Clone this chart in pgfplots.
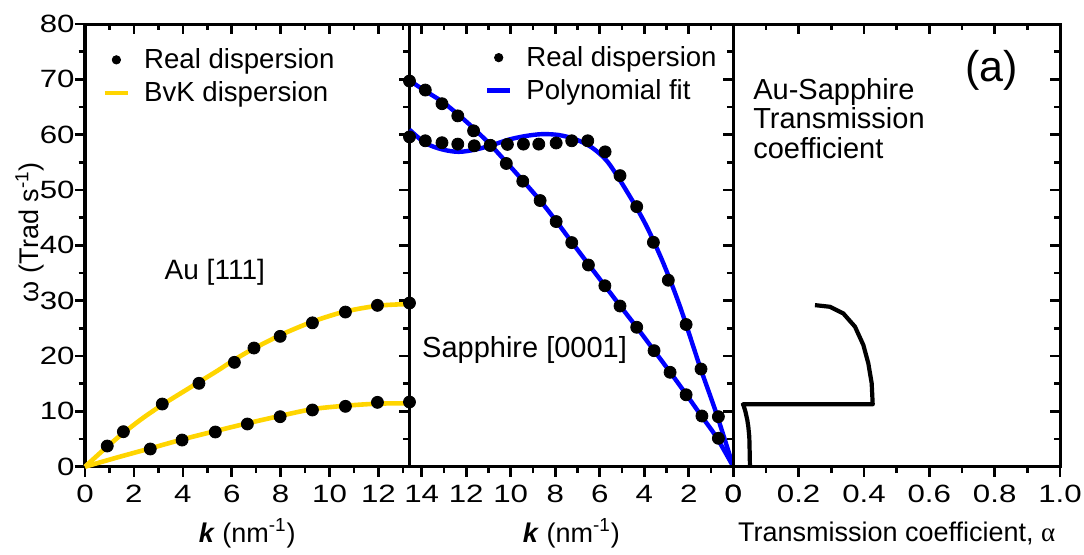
\documentclass[border=0pt]{standalone}
\usepackage{fontspec}
\setmainfont{Liberation Sans}
\newfontfamily\tickfont[FakeStretch=1.25]{Liberation Sans}
\newfontfamily\greekserif{Liberation Serif}
\usepackage{pgfplots}
\pgfplotsset{compat=1.18}
\definecolor{bvk}{RGB}{255,213,0}
\definecolor{fitblue}{RGB}{0,0,255}
\pgfplotsset{
  base/.style={scale only axis, height=221.35pt, ymin=0, ymax=80,
    ytick={0,10,...,80}, minor ytick={5,15,...,75},
    axis line style={line width=1.5pt},
    tick style={line width=1.3pt, black},
    major tick length=5pt, minor tick length=3.2pt,
    tick label style={font=\tickfont\fontsize{12.5}{14}\selectfont},
    /pgf/number format/assume math mode=true,
    clip=false, anchor=south west},
  main/.style={base, tick align=outside, xtick pos=bottom, ytick pos=left,
    xticklabel style={inner sep=0pt, yshift=-4pt},
    yticklabel style={inner sep=0pt, xshift=0pt},
    every axis x label/.style={at={(axis description cs:0.5,-0.15)}, anchor=center, font=\fontsize{13.5}{15}\selectfont},
    legend style={draw=none, fill=none, anchor=north west, inner sep=0pt,
      font=\fontsize{13.8}{15}\selectfont, row sep=1pt, column sep=5pt,
      legend cell align=left},
    legend image code/.code={\draw[mark repeat=2,mark phase=2,##1] plot coordinates {(0pt,0pt) (5.75pt,0pt) (11.5pt,0pt)};},
  },
  mirror/.style={base, tick align=inside, xtick pos=top, ytick pos=right,
    xticklabels={}, yticklabels={}},
  dots/.style={only marks, mark=*, mark size=3pt, black, forget plot},
}
\begin{document}
\begin{tikzpicture}
\path[use as bounding box] (0pt,0pt) rectangle (542pt,277pt);

% ---------------- Panel 1: Au [111] ----------------
\begin{axis}[mirror, at={(42.5pt,43.65pt)}, width=162.25pt, xmin=0, xmax=13.27,
  xtick={0,2,...,12}, minor xtick={1,3,...,13}]
\end{axis}
\begin{axis}[main, at={(42.5pt,43.65pt)}, width=162.25pt, xmin=0, xmax=13.27,
  xtick={0,2,...,12}, minor xtick={1,3,...,13},
  xlabel={\textbf{\textit{k}} (nm\textsuperscript{-1})},
  ylabel={ω (Trad s\textsuperscript{-1})},
  every axis y label/.style={at={(axis description cs:-0.17,0.53)}, rotate=90, anchor=center, font=\fontsize{13.5}{15}\selectfont},
  legend style={at={(axis description cs:0.053,0.955)}}]
\addlegendimage{only marks, mark=*, mark size=2.1pt, black}
\addlegendentry{Real dispersion}
\addlegendimage{bvk, line width=2.3pt}
\addlegendentry{BvK dispersion}
\addplot[bvk, line width=2.3pt, smooth, forget plot] coordinates {
 (0,0) (0.9,3.6) (1.6,6.2) (2.4,8.9) (3.2,11.3) (4.0,13.5) (4.7,15.4) (5.4,17.3) (6.1,19.3) (6.8,21.1) (8.0,23.8) (9.3,26.2) (10.6,28.0) (12.0,29.1) (13.27,29.4)};
\addplot[bvk, line width=2.3pt, smooth, forget plot] coordinates {
 (0,0) (1.3,1.65) (2.66,3.3) (4.0,4.95) (5.25,6.35) (6.6,7.8) (8.0,9.2) (9.3,10.4) (10.6,11.0) (12.0,11.4) (13.27,11.45)};
\addplot[dots] coordinates {
 (0.91,3.74) (1.57,6.33) (3.16,11.33) (4.66,15.07) (6.11,18.86) (6.91,21.45) (7.98,23.56) (9.30,26.0) (10.65,27.95) (11.96,29.16) (13.27,29.58)};
\addplot[dots] coordinates {
 (2.67,3.2) (3.97,4.82) (5.33,6.27) (6.64,7.72) (7.98,9.04) (9.30,10.25) (10.65,10.91) (11.96,11.63) (13.27,11.69)};
\node[font=\fontsize{14}{16}\selectfont] at (axis description cs:0.40,0.44) {Au [111]};
\end{axis}

% ---------------- Panel 2: Sapphire [0001] ----------------
\begin{axis}[mirror, at={(204.75pt,43.65pt)}, width=161.9pt, xmin=0, xmax=14.55, x dir=reverse,
  xtick={0,2,...,14}, minor xtick={1,3,...,13}]
\end{axis}
\begin{axis}[main, at={(204.75pt,43.65pt)}, width=161.9pt, xmin=0, xmax=14.55, x dir=reverse,
  xtick={0,2,...,14}, minor xtick={1,3,...,13}, yticklabels={},
  xlabel={\textbf{\textit{k}} (nm\textsuperscript{-1})},
  legend style={at={(axis description cs:0.232,0.96)}}]
\addlegendimage{only marks, mark=*, mark size=2.1pt, black}
\addlegendentry{Real dispersion}
\addlegendimage{fitblue, line width=2.2pt}
\addlegendentry{Polynomial fit}
\addplot[fitblue, line width=2.2pt, smooth, forget plot] coordinates {
 (14.55,69.8) (13.84,67.9) (13.09,66.0) (12.35,63.6) (11.6,60.9) (10.85,57.9) (10.1,54.6) (9.5,51.9) (8.68,48.1) (7.96,44.4) (7.26,40.6) (6.51,36.6) (5.77,32.7) (5.09,29.1) (4.34,25.2) (3.56,21.0) (2.84,17.1) (2.12,13.1) (1.42,9.1) (0.75,5.3) (0,0)};
\addplot[fitblue, line width=2.2pt, smooth, forget plot] coordinates {
 (14.55,60.9) (13.84,58.5) (13.09,57.35) (12.35,56.9) (11.6,57.3) (10.85,58.1) (10.1,59.1) (9.35,59.75) (8.6,60.1) (7.86,59.95) (7.11,59.2) (6.36,57.7) (5.61,54.9) (4.64,48.8) (3.89,43.4) (3.14,36.75) (2.39,28.9) (1.5,18.1) (0.75,9.5) (0,0)};
\addplot[dots] coordinates {
 (14.55,69.7) (13.84,68.07) (13.09,65.6) (12.38,63.4) (11.67,60.7) (10.92,58.07) (10.2,54.8) (9.46,51.6) (8.68,48.1) (7.96,44.3) (7.26,40.5) (6.51,36.45) (5.77,32.7) (5.09,29.04) (4.34,25.2) (3.56,20.97) (2.84,17.06) (2.12,13.0) (1.41,9.16) (0.67,5.13)};
\addplot[dots] coordinates {
 (14.55,59.6) (13.84,58.9) (13.09,58.55) (12.38,58.3) (11.64,58.0) (10.92,58.07) (10.15,58.25) (9.43,58.3) (8.74,58.3) (7.96,58.5) (7.26,58.9) (6.54,58.9) (5.76,56.9) (5.09,52.6) (4.34,47.0) (3.59,40.55) (2.92,33.7) (2.12,25.7) (1.45,17.65) (0.67,9.04)};
\node[font=\fontsize{14.5}{16}\selectfont, anchor=west, inner sep=0pt] at (axis description cs:0.038,0.264) {Sapphire [0001]};
\end{axis}

% ---------------- Panel 3: Transmission coefficient ----------------
\begin{axis}[mirror, at={(366.65pt,43.65pt)}, width=163.35pt, xmin=0, xmax=1,
  xtick={0,0.2,...,1.0}, minor xtick={0.1,0.3,...,0.9}]
\end{axis}
\begin{axis}[main, at={(366.65pt,43.65pt)}, width=163.35pt, xmin=0, xmax=1,
  xtick={0,0.2,0.4,0.6,0.8,1.0}, minor xtick={0.1,0.3,0.5,0.7,0.9},
  xticklabels={0,0.2,0.4,0.6,0.8,1.0}, yticklabels={},
  xlabel={Transmission coefficient, {\greekserif α}}]
\addplot[black, line width=2.1pt, line join=round] coordinates {
 (0.051,0) (0.050,3.0) (0.049,5.4) (0.046,7.2) (0.043,8.4) (0.037,10.0) (0.031,11.15) (0.029,11.27) (0.4267,11.27)
 (0.4236,15.07) (0.4133,18.68) (0.398,22.0) (0.3725,25.3) (0.3367,27.7) (0.296,28.9) (0.25,29.2)};
\node[font=\fontsize{14.5}{14.75}\selectfont, anchor=north west, align=left, inner sep=0pt] at (axis description cs:0.06,0.878) {Au-Sapphire\\Transmission\\coefficient};
\node[font=\fontsize{21.5}{24}\selectfont] at (axis description cs:0.79,0.896) {(a)};
\end{axis}
\end{tikzpicture}
\end{document}
